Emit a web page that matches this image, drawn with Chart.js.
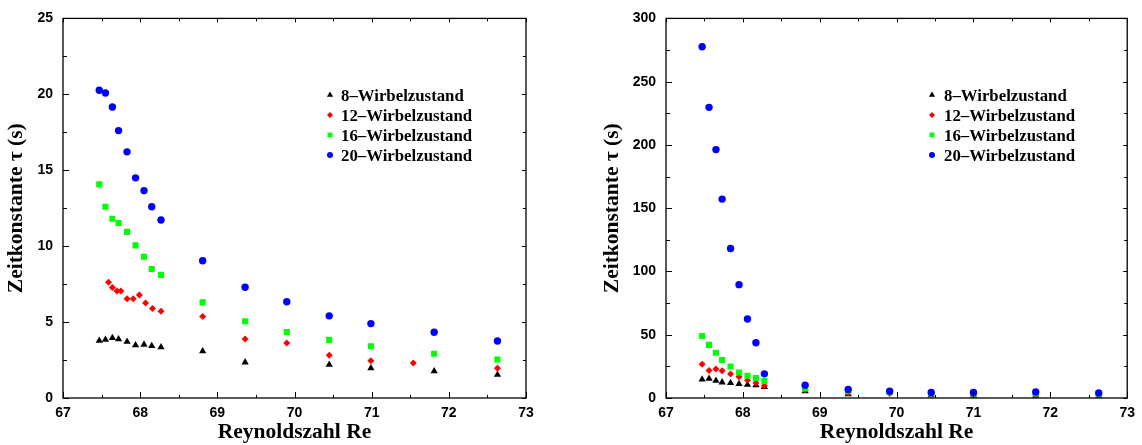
<!DOCTYPE html>
<html><head><meta charset="utf-8">
<script src="https://cdn.jsdelivr.net/npm/chart.js@4/dist/chart.umd.min.js"></script>
<style>
html,body{margin:0;padding:0;background:#fff;}
#wrap{position:relative;width:1142px;height:445px;background:#fff;}
canvas{position:absolute;top:0;}
</style></head><body>
<div id="wrap">
<canvas id="c1" width="571" height="445" style="left:0"></canvas>
<canvas id="c2" width="571" height="445" style="left:571px"></canvas>
</div>
<script>
// ---- data ----
const seriesNames = ['8\u2013Wirbelzustand', '12\u2013Wirbelzustand', '16\u2013Wirbelzustand', '20\u2013Wirbelzustand'];
const xTitle = 'Reynoldszahl Re';
const yTitle = 'Zeitkonstante \u03c4 (s)';

// left panel
const reL = [67.47, 67.55, 67.64, 67.72, 67.83, 67.94, 68.05, 68.15, 68.27, 68.81, 69.36, 69.90, 70.45, 70.99, 71.81, 72.63];
const tauL20 = [20.27, 20.09, 19.16, 17.61, 16.21, 14.50, 13.66, 12.60, 11.72, 9.04, 7.29, 6.34, 5.41, 4.90, 4.33, 3.75];
const tauL16 = [14.07, 12.60, 11.80, 11.52, 10.94, 10.05, 9.30, 8.50, 8.11, 6.30, 5.05, 4.35, 3.83, 3.41, 2.91, 2.54];
const reL12 = [67.59, 67.64, 67.70, 67.75, 67.83, 67.91, 67.99, 68.07, 68.16, 68.27, 68.81, 69.36, 69.90, 70.45, 70.99, 71.54, 72.63];
const tauL12 = [7.62, 7.27, 7.05, 7.05, 6.53, 6.53, 6.79, 6.26, 5.89, 5.71, 5.37, 3.88, 3.62, 2.82, 2.45, 2.30, 1.96];
const reL8 = [67.47, 67.55, 67.64, 67.72, 67.83, 67.94, 68.05, 68.15, 68.27, 68.81, 69.36, 70.45, 70.99, 71.81, 72.63];
const tauL8 = [3.77, 3.84, 3.95, 3.88, 3.71, 3.48, 3.52, 3.43, 3.35, 3.09, 2.35, 2.20, 1.96, 1.77, 1.53];

// right panel
const reR = [67.47, 67.56, 67.65, 67.73, 67.84, 67.95, 68.06, 68.17, 68.28, 68.81, 69.37, 69.91, 70.45, 71.00, 71.81, 72.63];
const tauR20 = [277.6, 229.7, 196.3, 157.2, 118.1, 89.6, 62.4, 43.7, 19.1, 10.1, 6.7, 5.4, 4.4, 4.4, 4.7, 3.9];
const tauR16 = [49.0, 42.0, 35.7, 30.0, 24.9, 20.2, 17.6, 15.8, 13.4, 7.5, 5.5, 4.5, 3.5, 3.3, 3.5, 2.8];
const tauR12 = [26.7, 21.7, 23.0, 21.5, 18.9, 16.8, 14.0, 11.9, 9.6, 6.5, 4.0, 3.5, 3.0, 2.6, 2.4, 2.0];
const reR8 = [67.47, 67.56, 67.65, 67.73, 67.84, 67.95, 68.06, 68.17, 68.28, 68.81, 69.37, 70.45, 71.00, 71.81, 72.63];
const tauR8 = [14.7, 15.3, 13.7, 12.4, 11.9, 11.1, 10.6, 10.1, 8.8, 5.4, 3.0, 2.3, 2.0, 1.8, 1.5];

const xMin = 67, xMax = 73, xStep = 1, xMinor = 0.5;
const yLeftMax = 25, yLeftStep = 5, yLeftMinor = 2.5;
const yRightMax = 300, yRightStep = 50, yRightMinor = 25;

// ---- styles ----
const styles = [
  {color: '#000000', pointStyle: 'triangle', radius: 4.2, legendRadius: 3.6, order: 3},
  {color: '#ff0000', pointStyle: 'rectRot', radius: 3.5, legendRadius: 3.0, order: 2},
  {color: '#00ff00', pointStyle: 'rect', radius: 4.3, legendRadius: 3.4, order: 1},
  {color: '#0000ff', pointStyle: 'circle', radius: 3.7, legendRadius: 3.0, order: 0}
];

function pts(xs, ys) { return xs.map((x, i) => ({x: x, y: ys[i]})); }

function makeDatasets(list) {
  return list.map((d, i) => ({
    label: seriesNames[i],
    data: d,
    backgroundColor: styles[i].color,
    borderColor: styles[i].color,
    borderWidth: 0,
    pointStyle: styles[i].pointStyle,
    pointRadius: styles[i].radius,
    pointHoverRadius: styles[i].radius,
    showLine: false,
    order: styles[i].order
  }));
}

const framePlugin = {
  id: 'frame',
  afterDatasetsDraw(chart, args, opts) {
    const {ctx, chartArea: a} = chart;
    const xs = chart.scales.x, ys = chart.scales.y;
    ctx.save();
    ctx.strokeStyle = '#000';
    ctx.lineWidth = 1.3;
    ctx.strokeRect(a.left, a.top, a.right - a.left, a.bottom - a.top);
    ctx.lineWidth = 1;
    const line = (x1, y1, x2, y2) => { ctx.beginPath(); ctx.moveTo(x1, y1); ctx.lineTo(x2, y2); ctx.stroke(); };
    const nx = Math.round((xs.max - xs.min) / opts.xMinor);
    for (let i = 0; i <= nx; i++) {
      const v = xs.min + i * opts.xMinor;
      const p = Math.round(xs.getPixelForValue(v)) + 0.5;
      const major = (i % Math.round(opts.xStep / opts.xMinor)) === 0;
      line(p, a.bottom, p, a.bottom - (major ? 6 : 3));
      line(p, a.top, p, a.top + (major ? 4 : 3));
    }
    const ny = Math.round((ys.max - ys.min) / opts.yMinor);
    for (let i = 0; i <= ny; i++) {
      const v = ys.min + i * opts.yMinor;
      const p = Math.round(ys.getPixelForValue(v)) + 0.5;
      const major = (i % Math.round(opts.yStep / opts.yMinor)) === 0;
      line(a.left, p, a.left + (major ? 6 : 4), p);
      line(a.right, p, a.right - (major ? 4 : 3), p);
    }
    ctx.restore();
  }
};

const legendPlugin = {
  id: 'customLegend',
  afterDraw(chart, args, opts) {
    const ctx = chart.ctx;
    ctx.save();
    chart.data.datasets.forEach((ds, i) => {
      const st = styles[i];
      const cy = opts.y0 + i * opts.dy;
      ctx.fillStyle = st.color;
      ctx.strokeStyle = st.color;
      if (Chart.helpers && Chart.helpers.drawPoint) {
        Chart.helpers.drawPoint(ctx, {pointStyle: st.pointStyle, radius: st.legendRadius, rotation: 0, borderWidth: 0}, opts.markerX, cy);
      }
      ctx.fillStyle = '#000';
      ctx.font = 'bold 16.8px "Liberation Serif", "Times New Roman", serif';
      ctx.textAlign = 'left';
      ctx.textBaseline = 'alphabetic';
      ctx.fillText(ds.label, opts.textX, cy + 6);
    });
    ctx.restore();
  }
};

const tickFont = {family: '"Liberation Sans", Arial, sans-serif', weight: 'bold', size: 14};
const titleFont = {family: '"Liberation Serif", "Times New Roman", serif', weight: 'bold', size: 21.5};

function makeChart(id, datasets, yMax, yStep, yMinor, padLeft, padRight, padTop, yWidth, yTitlePad, legendPos) {
  return new Chart(document.getElementById(id), {
    type: 'scatter',
    data: {datasets: datasets},
    plugins: [framePlugin, legendPlugin],
    options: {
      responsive: false,
      animation: false,
      devicePixelRatio: 1,
      layout: {padding: {left: padLeft, right: padRight, top: padTop, bottom: 0}},
      plugins: {
        legend: {display: false},
        tooltip: {enabled: false},
        frame: {xMinor: xMinor, xStep: xStep, yMinor: yMinor, yStep: yStep},
        customLegend: legendPos
      },
      scales: {
        x: {
          type: 'linear', min: xMin, max: xMax,
          ticks: {stepSize: xStep, font: tickFont, color: '#000', padding: 7, maxRotation: 0},
          grid: {display: false, drawTicks: false},
          border: {display: false},
          title: {display: true, text: xTitle, font: titleFont, color: '#000', padding: {top: 0, bottom: 0}},
          afterFit: s => { s.height = 47; }
        },
        y: {
          type: 'linear', min: 0, max: yMax,
          ticks: {stepSize: yStep, font: tickFont, color: '#000', padding: 10},
          grid: {display: false, drawTicks: false},
          border: {display: false},
          title: {display: true, text: yTitle, font: titleFont, color: '#000', padding: {top: yTitlePad, bottom: 0}},
          afterFit: s => { s.width = yWidth; }
        }
      }
    }
  });
}

makeChart('c1', makeDatasets([pts(reL8, tauL8), pts(reL12, tauL12), pts(reL, tauL16), pts(reL, tauL20)]),
  yLeftMax, yLeftStep, yLeftMinor, 0, 45, 12, 63, 4, {markerX: 330, textX: 341, y0: 95, dy: 20});
makeChart('c2', makeDatasets([pts(reR8, tauR8), pts(reR, tauR12), pts(reR, tauR16), pts(reR, tauR20)]),
  yRightMax, yRightStep, yRightMinor, 27, 13, 11, 68, 2, {markerX: 361, textX: 373, y0: 95, dy: 20});
</script>
</body></html>
